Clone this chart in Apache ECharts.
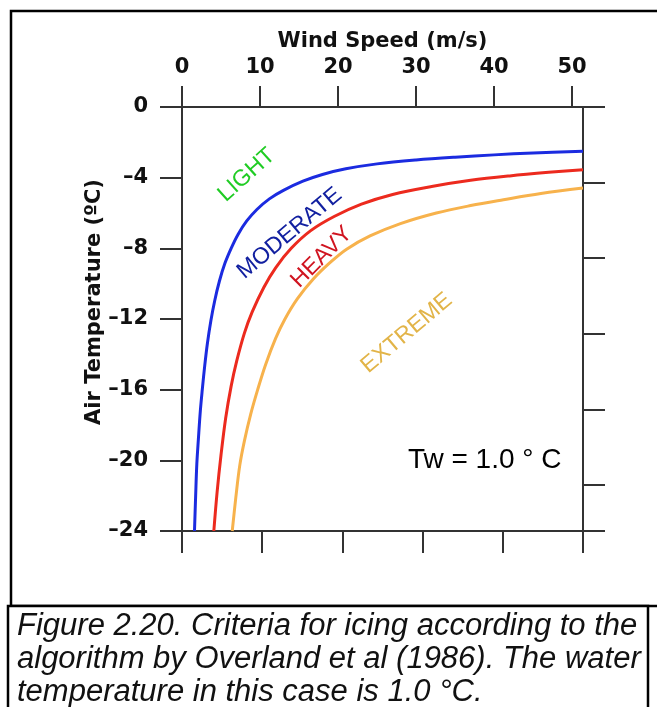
<!DOCTYPE html>
<html>
<head>
<meta charset="utf-8">
<script src="https://cdn.jsdelivr.net/npm/echarts@6/dist/echarts.min.js"></script>
<style>
html, body { margin: 0; padding: 0; background: #fff; }
#chart { width: 657px; height: 707px; }
</style>
</head>
<body>
<div id="chart"></div>
<script>
// wind speed (m/s) / air temperature (°C)
const lightWind = [1.6, 1.75, 1.9, 2.1, 2.35, 2.6, 2.9, 3.25, 3.7, 4.2, 4.8, 5.5, 6.3, 7.2, 8.3, 9.6, 11.2, 13.0, 15.5, 18, 21, 25, 30, 35, 40, 45, 51.4]
const lightTemp = [-24, -22, -20.2, -18.8, -17.2, -16.0, -14.7, -13.4, -12.1, -10.95, -9.85, -8.85, -8.0, -7.2, -6.45, -5.8, -5.2, -4.72, -4.2, -3.82, -3.5, -3.22, -3.0, -2.84, -2.71, -2.6, -2.5]

const heavyWind = [4.08, 4.5, 5.0, 5.6, 6.3, 7.0, 8.0, 9.0, 10.5, 12.0, 14.0, 16.5, 19.5, 23.0, 27.0, 32.0, 37.0, 42.0, 47.0, 51.4]
const heavyTemp = [-24, -21.8, -19.7, -17.6, -15.8, -14.4, -12.8, -11.6, -10.2, -9.1, -8.0, -7.0, -6.2, -5.5, -4.95, -4.5, -4.15, -3.9, -3.7, -3.55]

const extremeWind = [6.44, 6.9, 7.4, 8.0, 8.8, 9.7, 10.7, 12.0, 13.2, 14.8, 16.8, 19.0, 21.1, 24.1, 28, 32.6, 37, 41.2, 46, 51.4]
const extremeTemp = [-24, -22.1, -20.3, -18.9, -17.4, -16.0, -14.6, -13.1, -12.0, -10.85, -9.75, -8.8, -8.05, -7.3, -6.6, -6.0, -5.58, -5.25, -4.9, -4.59]

// zone names, placed in data units
const zoneNames = ['LIGHT', 'MODERATE', 'HEAVY', 'EXTREME']
const zoneWind = [8.3, 13.8, 17.9, 28.8]
const zoneTemp = [-3.85, -7.15, -8.5, -12.8]
const zoneAngle = [42, 40, 45, 40]

const xTitle = 'Wind Speed (m/s)'
const yTitle = 'Air Temperature (ºC)'
const noteText = 'Tw = 1.0 ° C'
const noteWind = 38.8
const noteTemp = -20.0
const captionLines = [
    'Figure 2.20. Criteria for icing according to the',
    'algorithm by Overland et al (1986). The water',
    'temperature in this case is 1.0 °C.'
]

const zoneColors = ['#20cc24', '#1220a0', '#d01420', '#e2b448']
const lineColors = ['#1b2be0', '#ec2a1e', '#f7b24c']
const axisColor = '#333'
const axisFont = '"DejaVu Sans", Verdana, sans-serif'
const plainFont = '"Liberation Sans", Arial, sans-serif'

function pairs(xs, ys) {
    return xs.map((x, i) => [x, ys[i]])
}

const chart = echarts.init(document.getElementById('chart'))

const curve = (data, color) => ({
    type: 'line',
    data: data,
    showSymbol: false,
    smooth: 0.35,
    lineStyle: { color: color, width: 3 },
    silent: true
})

const textMarks = (items) => ({
    type: 'scatter',
    symbolSize: 0,
    silent: true,
    itemStyle: { opacity: 1 },
    data: items
})

const option = {
    backgroundColor: '#fff',
    animation: false,
    grid: { left: 182, top: 107, right: 74, bottom: 176 },
    xAxis: [
        {
            type: 'value',
            position: 'top',
            min: 0,
            max: 51.4,
            interval: 10,
            name: xTitle,
            nameLocation: 'middle',
            nameGap: 51,
            nameTextStyle: { color: '#111', fontSize: 21, fontWeight: 'bold', fontFamily: axisFont },
            axisLine: { show: true, onZero: false, lineStyle: { color: axisColor, width: 2 } },
            axisTick: { show: true, length: 21, lineStyle: { color: axisColor, width: 2 } },
            axisLabel: { margin: 29, color: '#111', fontSize: 21, fontWeight: 'bold', fontFamily: axisFont, showMaxLabel: false },
            splitLine: { show: false }
        },
        {
            type: 'value',
            position: 'bottom',
            min: 0,
            max: 5,
            interval: 1,
            axisLine: { show: true, onZero: false, lineStyle: { color: axisColor, width: 2 } },
            axisTick: { show: true, length: 22, lineStyle: { color: axisColor, width: 2 } },
            axisLabel: { show: false },
            splitLine: { show: false }
        }
    ],
    yAxis: [
        {
            type: 'value',
            position: 'left',
            min: -24,
            max: 0,
            interval: 4,
            axisLine: { show: true, onZero: false, lineStyle: { color: axisColor, width: 2 } },
            axisTick: { show: true, length: 22, lineStyle: { color: axisColor, width: 2 } },
            axisLabel: {
                margin: 34,
                color: '#111',
                fontSize: 21,
                fontWeight: 'bold',
                fontFamily: axisFont,
                formatter: (v) => String(v).replace('-', '\u2013')
            },
            splitLine: { show: false }
        },
        {
            type: 'value',
            position: 'right',
            min: 0,
            max: 5.61,
            interval: 1,
            inverse: true,
            axisLine: { show: true, onZero: false, lineStyle: { color: axisColor, width: 2 } },
            axisTick: { show: true, length: 22, lineStyle: { color: axisColor, width: 2 } },
            axisLabel: { show: false },
            splitLine: { show: false }
        }
    ],
    series: [
        curve(pairs(lightWind, lightTemp), lineColors[0]),
        curve(pairs(heavyWind, heavyTemp), lineColors[1]),
        curve(pairs(extremeWind, extremeTemp), lineColors[2]),
        textMarks(zoneNames.map((n, i) => ({
            value: [zoneWind[i], zoneTemp[i]],
            label: {
                show: true,
                formatter: n,
                position: 'inside',
                rotate: zoneAngle[i],
                color: zoneColors[i],
                opacity: 1,
                textBorderWidth: 0,
                fontSize: 23,
                fontFamily: plainFont
            }
        }))),
        textMarks([{
            value: [noteWind, noteTemp],
            label: {
                show: true,
                formatter: noteText,
                position: 'inside',
                color: '#000',
                opacity: 1,
                textBorderWidth: 0,
                fontSize: 28,
                fontFamily: plainFont
            }
        }])
    ],
    graphic: [
        {
            type: 'rect',
            silent: true,
            shape: { x: 11, y: 11, width: 660, height: 595 },
            style: { fill: null, stroke: '#000', lineWidth: 2.5 }
        },
        {
            type: 'rect',
            silent: true,
            shape: { x: 8, y: 606, width: 640, height: 130 },
            style: { fill: '#fff', stroke: '#000', lineWidth: 2.5 }
        },
        {
            type: 'text',
            silent: true,
            x: 95,
            y: 302,
            rotation: Math.PI / 2,
            style: {
                text: yTitle,
                fill: '#111',
                fontSize: 21,
                fontWeight: 'bold',
                fontFamily: axisFont,
                align: 'center',
                verticalAlign: 'middle'
            }
        }
    ].concat(captionLines.map((t, i) => ({
        type: 'text',
        silent: true,
        x: 17,
        y: 626 + i * 33,
        style: {
            text: t,
            fill: '#111',
            fontSize: 31,
            fontStyle: 'italic',
            fontFamily: plainFont,
            align: 'left',
            verticalAlign: 'middle'
        }
    })))
}

chart.setOption(option)
</script>
</body>
</html>
